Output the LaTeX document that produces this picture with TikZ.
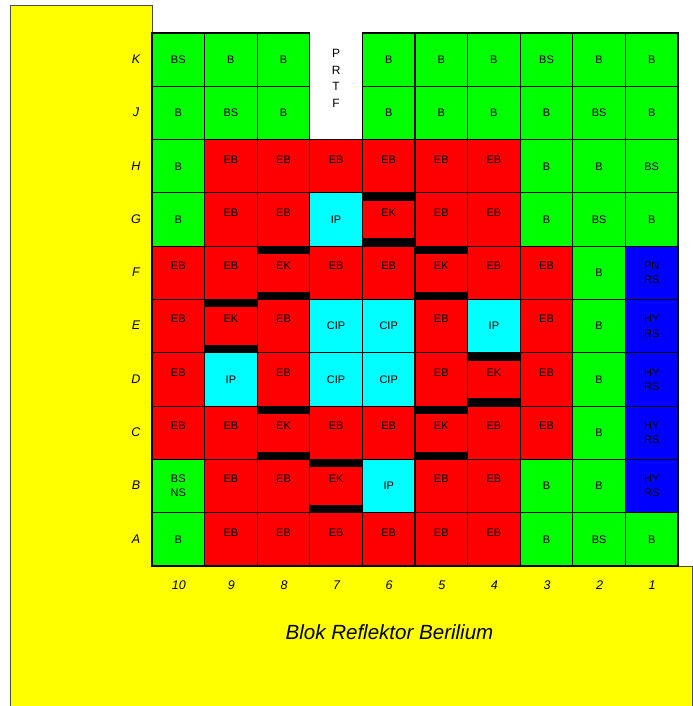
\documentclass[tikz,border=0pt]{standalone}
\usepackage{fontspec}
\setmainfont{Liberation Sans}
\definecolor{kuning}{RGB}{255,255,0}
\definecolor{hijau}{RGB}{0,255,0}
\definecolor{merah}{RGB}{255,0,0}
\definecolor{sian}{RGB}{0,255,255}
\definecolor{biru}{RGB}{0,0,255}
\tikzset{
  gridcell/.style={draw=black, line width=0.9pt, minimum width=39.45pt, minimum height=39.98pt, inner sep=0pt, align=center, font=\fontsize{8.25}{10.7}\selectfont},
  gcell/.style={gridcell, fill=hijau},
  rcell/.style={gridcell, fill=merah, text depth=10.5pt},
  ccell/.style={gridcell, fill=sian},
  ucell/.style={gridcell, fill=biru},
  pcell/.style={inner sep=0pt, align=center, yshift=-14pt, font=\fontsize{9}{12.3}\selectfont},
  ekbar/.style={fill=black},
  reflektor/.style={fill=kuning, draw=black!70, line width=0.75pt},
  axislbl/.style={inner sep=0pt, font=\fontsize{9.4}{11}\selectfont\itshape},
  titlelbl/.style={inner sep=0pt, font=\fontsize{15.4}{18}\selectfont\itshape},
}
\begin{document}
\begin{tikzpicture}[x=0.75pt, y=-0.75pt]
\useasboundingbox (0,0) rectangle (692,706);
\draw[reflektor] (10,6) -- (152,6) -- (152,566) -- (692,566) -- (692,706) -- (10,706) -- cycle;
% core grid, rows from the top, columns 10 down to 1
\foreach \rw/\ry/\cells in {
  K/0/{gcell/BS,gcell/B,gcell/B,pcell/P\\R\\T\\F,gcell/B,gcell/B,gcell/B,gcell/BS,gcell/B,gcell/B},
  J/1/{gcell/B,gcell/BS,gcell/B,pcell/{},gcell/B,gcell/B,gcell/B,gcell/B,gcell/BS,gcell/B},
  H/2/{gcell/B,rcell/EB,rcell/EB,rcell/EB,rcell/EB,rcell/EB,rcell/EB,gcell/B,gcell/B,gcell/BS},
  G/3/{gcell/B,rcell/EB,rcell/EB,ccell/IP,rcell/EK,rcell/EB,rcell/EB,gcell/B,gcell/BS,gcell/B},
  F/4/{rcell/EB,rcell/EB,rcell/EK,rcell/EB,rcell/EB,rcell/EK,rcell/EB,rcell/EB,gcell/B,ucell/PN\\RS},
  E/5/{rcell/EB,rcell/EK,rcell/EB,ccell/CIP,ccell/CIP,rcell/EB,ccell/IP,rcell/EB,gcell/B,ucell/HY\\RS},
  D/6/{rcell/EB,ccell/IP,rcell/EB,ccell/CIP,ccell/CIP,rcell/EB,rcell/EK,rcell/EB,gcell/B,ucell/HY\\RS},
  C/7/{rcell/EB,rcell/EB,rcell/EK,rcell/EB,rcell/EB,rcell/EK,rcell/EB,rcell/EB,gcell/B,ucell/HY\\RS},
  B/8/{gcell/BS\\NS,rcell/EB,rcell/EB,rcell/EK,ccell/IP,rcell/EB,rcell/EB,gcell/B,gcell/B,ucell/HY\\RS},
  A/9/{gcell/B,rcell/EB,rcell/EB,rcell/EB,rcell/EB,rcell/EB,rcell/EB,gcell/B,gcell/BS,gcell/B}} {
  \foreach \cstyle/\ctext [count=\ci, evaluate=\ci as \cn using int(11-\ci)] in \cells {
    \node[\cstyle] (\rw\cn) at ({152+52.6*(\ci-0.5)},{33+53.3*(\ry+0.5)}) {\ctext};
  }
  \node[axislbl] (lbl\rw) at (136,{32.5+53.3*(\ry+0.5)}) {\rw};
}
% control blades
\foreach \nm in {G6,F8,F5,E9,D4,C8,C5,B7} {
  \fill[ekbar] (\nm.north west) rectangle ([shift={(0,8.5)}]\nm.north east);
  \fill[ekbar] ([shift={(0,-8.5)}]\nm.south west) rectangle (\nm.south east);
}
\foreach \cn [count=\ci] in {10,...,1} {
  \node[axislbl] (col\cn) at ({152.5+52.6*(\ci-0.5)},585) {\cn};
}
\node[titlelbl] (judul) at (389.5,632) {Blok Reflektor Berilium};
\end{tikzpicture}
\end{document}
